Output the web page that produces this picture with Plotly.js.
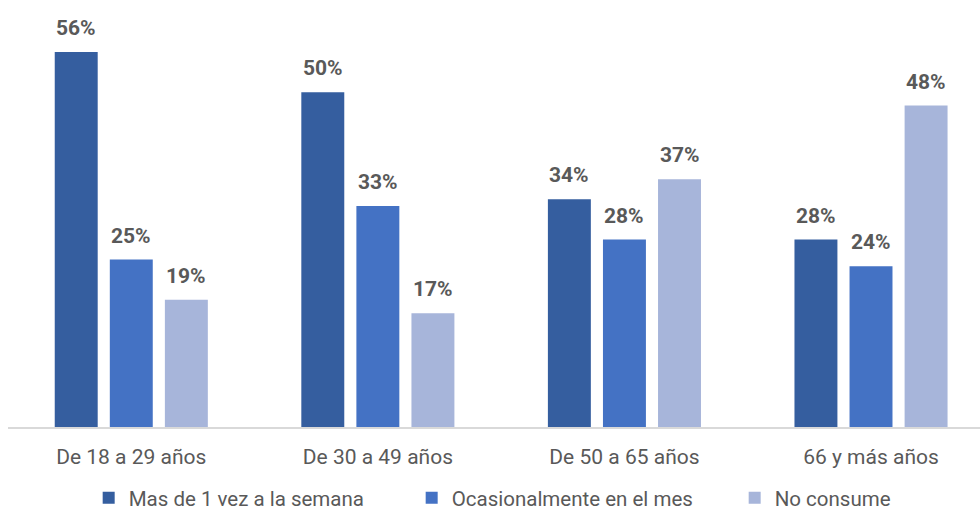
<!DOCTYPE html>
<html>
<head>
<meta charset="utf-8">
<script src="https://cdn.plot.ly/plotly-3.0.1.min.js"></script>
<style>html,body{margin:0;padding:0;background:#fff;}#chart{width:980px;height:515px;}</style>
</head>
<body>
<div id="chart"></div>
<script>
const categories = ["De 18 a 29 años", "De 30 a 49 años", "De 50 a 65 años", "66 y más años"];
const seriesNames = ["Mas de 1 vez a la semana", "Ocasionalmente en el mes", "No consume"];
const semanal = [56, 50, 34, 28];
const ocasional = [25, 33, 28, 24];
const noConsume = [19, 17, 37, 48];
const colors = ["#355E9F", "#4472C4", "#A7B5DA"];

const seriesValues = [semanal, ocasional, noConsume];
const bargap = 0.33;
const font = "Roboto, 'Noto Sans', sans-serif";

const traces = seriesValues.map((vals, i) => ({
  type: "bar",
  name: seriesNames[i],
  x: categories.map((_, k) => k),
  y: vals,
  marker: {color: colors[i]},
  hoverinfo: "skip"
}));

const slot = (1 - bargap) / seriesValues.length;
const annotations = [];
seriesValues.forEach((vals, i) => {
  vals.forEach((v, k) => {
    annotations.push({
      x: k + (i - (seriesValues.length - 1) / 2) * slot,
      y: v, xref: "x", yref: "y",
      text: "<b>" + v + "%</b>",
      showarrow: false, yanchor: "bottom", yshift: 10,
      font: {family: font, size: 21, color: "#595959"}
    });
  });
});

const layout = {
  width: 980, height: 515,
  margin: {l: 8, r: 0, t: 20, b: 88, autoexpand: false},
  paper_bgcolor: "#fff", plot_bgcolor: "#fff",
  barmode: "group", bargap: bargap, bargroupgap: 0.22,
  xaxis: {
    range: [-0.5, 3.442],
    tickmode: "array", tickvals: categories.map((_, k) => k), ticktext: categories,
    showline: true, linecolor: "#D9D9D9", linewidth: 1.5,
    ticks: "", showgrid: false, zeroline: false,
    ticklabelstandoff: 10,
    automargin: false,
    tickfont: {family: font, size: 21, color: "#595959"}
  },
  yaxis: {range: [0, 60.78], visible: false, showgrid: false, zeroline: false},
  showlegend: true,
  legend: {
    orientation: "h", x: 0.083, xanchor: "left", y: -0.125, yanchor: "top",
    font: {family: font, size: 20.5, color: "#595959"},
    itemwidth: 30, tracegroupgap: 0, entrywidth: 278, entrywidthmode: "pixels"
  },
  annotations: annotations
};

Plotly.newPlot("chart", traces, layout, {displayModeBar: false, staticPlot: true});
</script>
</body>
</html>
